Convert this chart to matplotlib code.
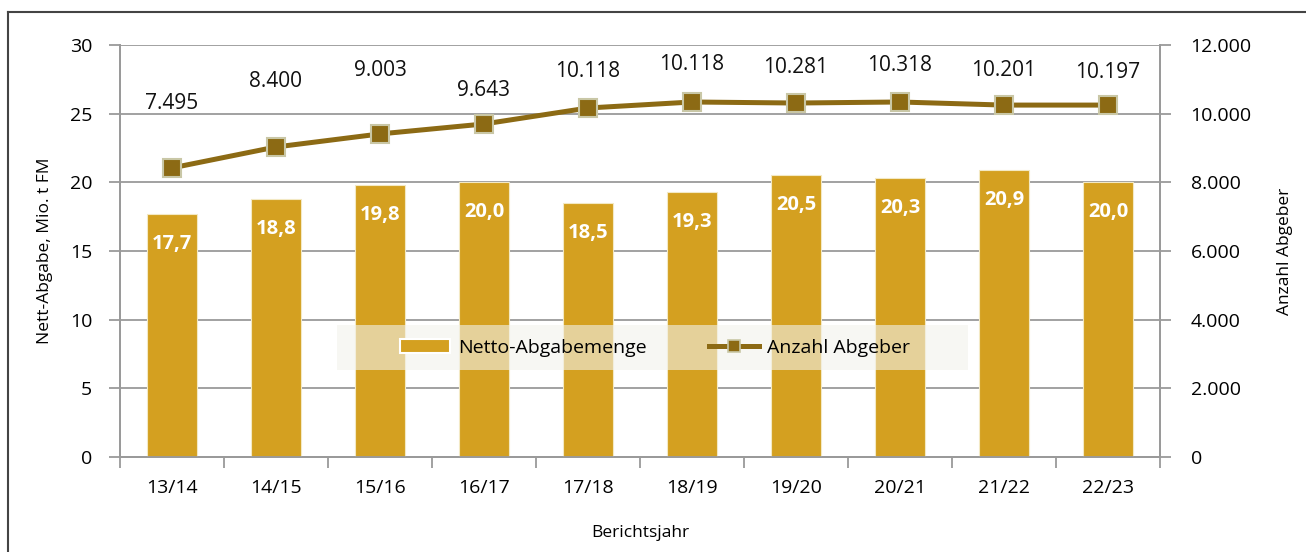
import matplotlib.pyplot as plt
from matplotlib.lines import Line2D
from matplotlib.patches import Patch, Rectangle
import numpy as np

plt.rcParams['font.family'] = ['Open Sans', 'DejaVu Sans']

# --- data ---
jahre = ['13/14', '14/15', '15/16', '16/17', '17/18', '18/19', '19/20', '20/21', '21/22', '22/23']
netto_abgabe = [17.7, 18.8, 19.8, 20.0, 18.5, 19.3, 20.5, 20.3, 20.9, 20.0]
# plotted positions of the line (as drawn) and the label texts shown
abgeber = [8420, 9030, 9410, 9700, 10165, 10340, 10310, 10340, 10250, 10250]
abgeber_labels = ['7.495', '8.400', '9.003', '9.643', '10.118', '10.118', '10.281', '10.318', '10.201', '10.197']
bar_labels = ['17,7', '18,8', '19,8', '20,0', '18,5', '19,3', '20,5', '20,3', '20,9', '20,0']

# label distance above marker (pixels)
label_dy = [64, 65, 63, 33, 37, 37, 36, 36, 35, 33]

BAR_COLOR = '#D4A020'
LINE_COLOR = '#8C6A14'
MARKER_EDGE = '#C9C7A6'
GRID_COLOR = '#9A9A9A'

fig = plt.figure(figsize=(13.06, 5.52), dpi=100)
W, H = 1306, 552
# plot area in pixels: x 120..1160, y 45..457
ax = fig.add_axes([120 / W, 1 - 457 / H, 1040 / W, 412 / H])
ax2 = ax.twinx()

x = np.arange(len(jahre))
ax.bar(x, netto_abgabe, width=0.48, color=BAR_COLOR, edgecolor='#F3E9C4', linewidth=0.8, zorder=3)
for xi, v, t in zip(x, netto_abgabe, bar_labels):
    ax.annotate(t, (xi, v), xytext=(0, -30 * 0.72), textcoords='offset points',
                ha='center', va='center', color='white', fontweight='bold', fontsize=14.5)

ax.set_xlim(-0.5, len(jahre) - 0.5)
ax.set_ylim(0, 30)
ax.set_yticks(range(0, 31, 5))
ax.grid(axis='y', color=GRID_COLOR, linewidth=1.3, zorder=0)
ax.set_axisbelow(True)
ax.set_xticks(x)
ax.set_xticklabels(jahre, fontsize=14)
ax.set_xticks(np.arange(-0.5, len(jahre), 1), minor=True)
ax.tick_params(axis='x', which='major', length=0, pad=16)
ax.tick_params(axis='x', which='minor', length=8, width=1.3, color=GRID_COLOR, direction='out')
ax.tick_params(axis='y', length=8, width=1.3, color=GRID_COLOR, labelsize=14, pad=12)
ax.set_ylabel('Nett-Abgabe, Mio. t FM', fontsize=12.5, labelpad=12)
ax.set_xlabel('Berichtsjahr', fontsize=12.5, labelpad=20)

ax2.plot(x, abgeber, color=LINE_COLOR, linewidth=3.6, marker='s', markersize=13,
         markerfacecolor=LINE_COLOR, markeredgecolor=MARKER_EDGE, markeredgewidth=1.5, zorder=4)
for xi, v, t, dy in zip(x, abgeber, abgeber_labels, label_dy):
    ax2.annotate(t, (xi, v), xytext=(0, dy * 0.72), textcoords='offset points',
                 ha='center', va='center', fontsize=15, color='#111111')
ax2.set_ylim(0, 12000)
ax2.set_yticks(range(0, 12001, 2000))
ax2.set_yticklabels(['0' if v == 0 else f'{v // 1000}.000' for v in range(0, 12001, 2000)])
ax2.tick_params(axis='y', length=8, width=1.3, color=GRID_COLOR, labelsize=14, pad=14)
ax2.set_ylabel('Anzahl Abgeber', fontsize=12.5, labelpad=18)

for a in (ax, ax2):
    a.spines['top'].set_visible(False)
    for s in ('left', 'right', 'bottom'):
        a.spines[s].set_color(GRID_COLOR)
        a.spines[s].set_linewidth(1.3)
ax2.set_zorder(ax.get_zorder() + 1)
ax2.patch.set_visible(False)

# translucent legend background box
ax2.add_patch(Rectangle(((337 - 120) / 1040, (457 - 370) / 412), 631 / 1040, 45 / 412,
                        transform=ax2.transAxes, facecolor='#F2F2EC', alpha=0.6,
                        edgecolor='none', zorder=2))

handles = [Patch(facecolor=BAR_COLOR, edgecolor='white', linewidth=1.5),
           Line2D([0], [0], color=LINE_COLOR, linewidth=3.6, marker='s', markersize=9,
                  markerfacecolor=LINE_COLOR, markeredgecolor=MARKER_EDGE, markeredgewidth=1.2)]
leg = ax2.legend(handles, ['Netto-Abgabemenge', 'Anzahl Abgeber'], loc='center',
                 bbox_to_anchor=((655 - 120) / 1040, (457 - 348) / 412), ncol=2, fontsize=14,
                 frameon=False, handlelength=2.6, handletextpad=0.4, columnspacing=3.2)

# figure border (top and left)
fig.add_artist(Line2D([8 / W, 8 / W], [0, 1 - 12 / H], color='#444444', linewidth=1.5))
fig.add_artist(Line2D([8 / W, 1], [1 - 12 / H, 1 - 12 / H], color='#444444', linewidth=1.5))

fig.savefig('out.png', dpi=100)
